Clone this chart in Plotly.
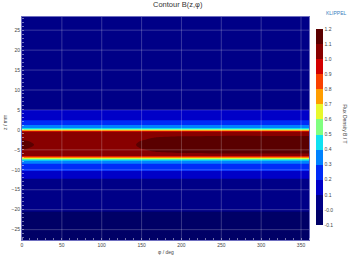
import plotly.graph_objects as go

# ---- data ----
phi_deg = [0, 8, 16, 25, 60, 100, 140, 155, 170, 200, 250, 300, 360]
z_mm = [-27.6, -21.0, -19.5, -12.5, -10.8, -9.8, -8.5, -7.75, -7.4, -6.5,
        -6.2, -5.4, -4.6, -3.7, -2.8, -2.0, -1.2,
        -0.45, 0.1, 0.45, 1.25, 2.0, 3.0, 4.5, 5.5, 15.0, 28.3]
N = len(phi_deg)

# core of the field (rows z = -6.2 ... -1.2), values per phi column
core_d25 = [1.065, 1.055, 1.05, 1.05, 1.05, 1.05, 1.055, 1.065, 1.075, 1.08, 1.085, 1.085, 1.085]
core_d17 = [1.09, 1.082, 1.072, 1.07, 1.07, 1.07, 1.075, 1.09, 1.105, 1.118, 1.125, 1.125, 1.125]
core_d09 = [1.108, 1.1, 1.09, 1.085, 1.085, 1.085, 1.09, 1.108, 1.12, 1.132, 1.138, 1.138, 1.138]
core_d00 = [1.115, 1.108, 1.099, 1.09, 1.09, 1.092, 1.097, 1.112, 1.125, 1.137, 1.142, 1.142, 1.142]

B_T = [
    [-0.03] * N,
    [-0.01] * N,
    [0.02] * N,
    [0.085] * N,
    [0.185] * N,
    [0.215] * N,
    [0.295] * N,
    [0.39] * N,
    [0.5] * N,
    [1.01] * N,
    core_d25,
    core_d17,
    core_d09,
    core_d00,
    core_d09,
    core_d17,
    core_d25,
    [1.01] * N,
    [0.52] * N,
    [0.398] * N,
    [0.298] * N,
    [0.215] * N,
    [0.18] * N,
    [0.105] * N,
    [0.095] * N,
    [0.07] * N,
    [0.05] * N,
]

levels = [-0.1, 0.0, 0.1, 0.2, 0.3, 0.4, 0.5, 0.6, 0.7, 0.8, 0.9, 1.0, 1.1, 1.2]
level_text = ["-0.1", "-0.0", "0.1", "0.2", "0.3", "0.4", "0.5", "0.6",
              "0.7", "0.8", "0.9", "1.0", "1.1", "1.2"]
band_colors = ["#000066", "#000066", "#00009C", "#0000DC", "#0038FF", "#0090FF",
               "#10E8F0", "#80FF80", "#E6FF30", "#FFAA00", "#FF5500", "#E60000",
               "#A40000", "#5A0000", "#5A0000"]

x_ticks = [0, 50, 100, 150, 200, 250, 300, 350]
y_ticks = [-25, -20, -15, -10, -5, 0, 5, 10, 15, 20, 25]

nb = len(band_colors) - 1
colorscale = [[i / nb, c] for i, c in enumerate(band_colors)]

fig = go.Figure(go.Contour(
    x=phi_deg, y=z_mm, z=B_T,
    zmin=-0.1, zmax=1.2,
    contours=dict(start=-0.1, end=1.2, size=0.1, coloring="fill", showlines=False),
    line=dict(width=0),
    colorscale=colorscale,
    colorbar=dict(
        x=1.0256, xanchor="left", xpad=0,
        y=0.507, yanchor="middle", ypad=0,
        len=0.88, lenmode="fraction", thickness=7,
        outlinewidth=0, ticks="",
        tickvals=levels, ticktext=level_text,
        tickfont=dict(size=5, color="#444444", family="Liberation Sans"),
    ),
    hoverinfo="skip",
))

shapes = []
for xv in x_ticks[1:]:
    shapes.append(dict(type="line", xref="x", yref="paper", x0=xv, x1=xv, y0=0, y1=1,
                       line=dict(color="rgba(255,255,255,0.22)", width=1), layer="above"))
for yv in y_ticks:
    shapes.append(dict(type="line", xref="paper", yref="y", x0=0, x1=1, y0=yv, y1=yv,
                       line=dict(color="rgba(255,255,255,0.22)", width=1), layer="above"))

fig.update_layout(
    width=350, height=260,
    margin=dict(l=21, r=41, t=17, b=18),
    paper_bgcolor="white", plot_bgcolor="white",
    font=dict(family="Liberation Sans", size=5, color="#444444"),
    shapes=shapes,
    showlegend=False,
    xaxis=dict(range=[0, 360], tickvals=x_ticks, showgrid=False, zeroline=False,
               ticks="", tickfont=dict(size=5), showline=True, mirror=True,
               linecolor="#6f6fc0", linewidth=1,
               minor=dict(dtick=10, ticks="inside", ticklen=2, tickcolor="rgba(255,255,255,0.45)")),
    yaxis=dict(range=[-27.6, 28.3], tickvals=y_ticks, showgrid=False, zeroline=False,
               ticks="", tickfont=dict(size=5), showline=True, mirror=True,
               linecolor="#6f6fc0", linewidth=1,
               minor=dict(dtick=1, ticks="inside", ticklen=2, tickcolor="rgba(255,255,255,0.45)")),
    annotations=[
        dict(text="Contour B(z,φ)", xref="paper", yref="paper", x=0.542, y=1.056,
             showarrow=False, font=dict(size=7.5, color="#333333", family="Liberation Sans"),
             xanchor="center", yanchor="middle"),
        dict(text="KLIPPEL", xref="paper", yref="paper", x=1.097, y=1.018,
             showarrow=False, font=dict(size=5, color="#3a7fc0", family="Liberation Sans"),
             xanchor="center", yanchor="middle"),
        dict(text="Flux Density B / T", xref="paper", yref="paper", x=1.125, y=0.52,
             showarrow=False, textangle=90,
             font=dict(size=5, color="#444444", family="Liberation Sans"),
             xanchor="center", yanchor="middle"),
        dict(text="z / mm", xref="paper", yref="paper", x=-0.057, y=0.528,
             showarrow=False, textangle=-90,
             font=dict(size=5, color="#444444", family="Liberation Sans"),
             xanchor="center", yanchor="middle"),
        dict(text="φ / deg", xref="paper", yref="paper", x=0.5, y=-0.053,
             showarrow=False,
             font=dict(size=5, color="#444444", family="Liberation Sans"),
             xanchor="center", yanchor="middle"),
    ],
)

fig.write_html("out.html")
